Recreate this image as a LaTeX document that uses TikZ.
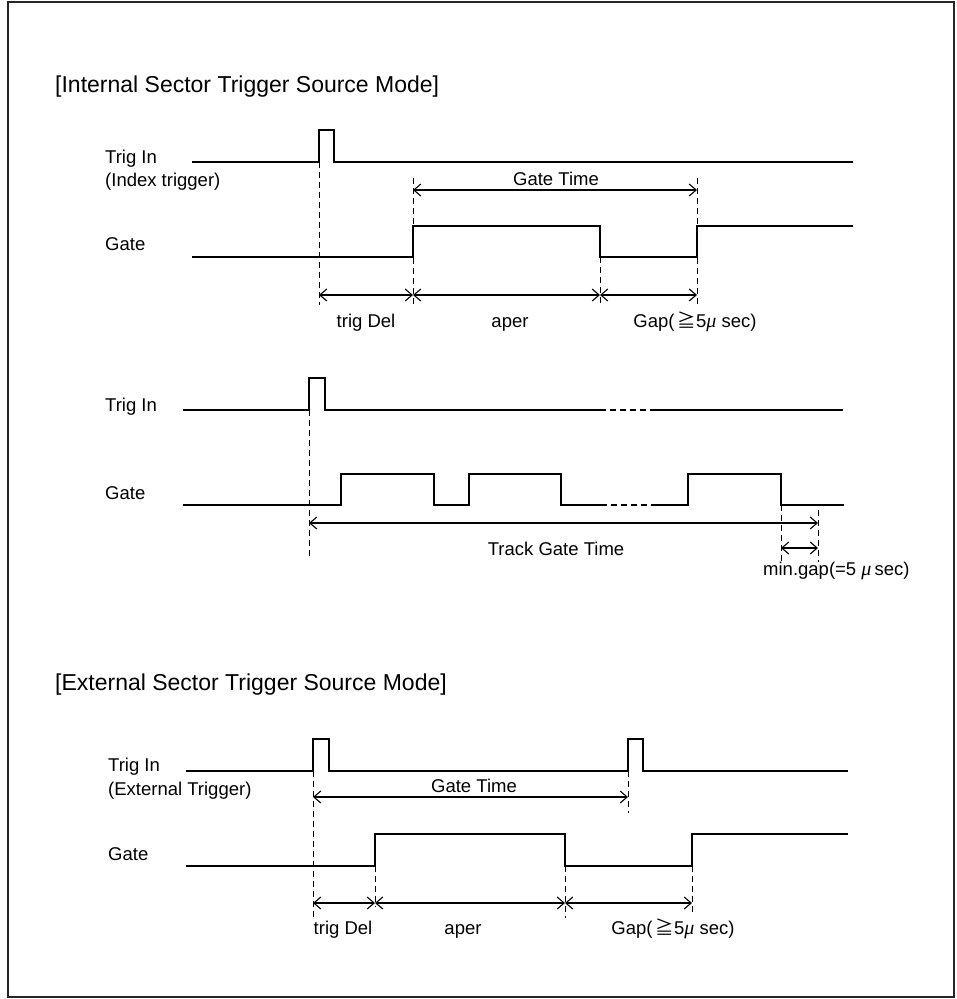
\documentclass[tikz,border=0pt]{standalone}
\usepackage{fontspec}
\setmainfont{Liberation Sans}
\newfontfamily\cjk{Noto Sans CJK JP}
\newfontfamily\muf{Liberation Serif}
\usetikzlibrary{arrows.meta}
\tikzset{
  sig/.style={line width=1.3pt, line join=miter},
  guide/.style={line width=0.9pt, dash pattern=on 6pt off 4pt},
  dim/.style={line width=1.1pt, {Straight Barb[length=7pt,width=12pt]}-{Straight Barb[length=7pt,width=12pt]}},
  lbl/.style={font=\fontsize{18.5pt}{22pt}\selectfont, inner sep=0pt},
  ttl/.style={font=\fontsize{23pt}{27pt}\selectfont, inner sep=0pt}
}
\newcommand{\gesym}{{\cjk\,≧}}
\newcommand{\mus}{{\muf\itshape\fontsize{20pt}{22pt}\selectfont μ}}
\begin{document}
\begin{tikzpicture}[x=1pt,y=-1pt]
\useasboundingbox (0,0) rectangle (957,999);
\draw[line width=2pt, black!85] (8,2) rectangle (954,997);

% ===== Internal: titles and labels =====
\node[ttl, anchor=base west] (t1) at (55,92) {[Internal Sector Trigger Source Mode]};
\node[lbl, anchor=base west] (a1) at (105,163) {Trig In};
\node[lbl, anchor=base west] (a2) at (105,186) {(Index trigger)};
\node[lbl, anchor=base west] (a3) at (105,250) {Gate};

% trig waveform
\draw[sig] (192,162) -- (319,162) -- (319,130) -- (334,130) -- (334,162) -- (853,162);
% gate waveform
\draw[sig] (192,257) -- (413,257) -- (413,226) -- (600,226) -- (600,257) -- (697,257) -- (697,226) -- (853,226);

% guide lines
\coordinate (p1) at (319,162);  \coordinate (p1b) at (319,305);
\coordinate (p2) at (413,178);  \coordinate (p2b) at (413,305);
\coordinate (p3) at (600,257);  \coordinate (p3b) at (600,305);
\coordinate (p4) at (697,178);  \coordinate (p4b) at (697,305);
\draw[guide] (p1) -- (p1b);
\draw[guide] (p2) -- (p2b);
\draw[guide] (p3) -- (p3b);
\draw[guide] (p4) -- (p4b);

% Gate time
\coordinate (g1) at (413,190); \coordinate (g2) at (697,190);
\draw[dim] (g1) -- (g2);
\node[lbl, anchor=base] (gt1) at (556,185) {Gate Time};

% dims
\coordinate (d1) at (319,295); \coordinate (d2) at (413,295);
\coordinate (d3) at (600,295); \coordinate (d4) at (697,295);
\draw[dim] (d1) -- (d2);
\draw[dim] (d2) -- (d3);
\draw[dim] (d3) -- (d4);
\node[lbl, anchor=base] (l1) at (366,327) {trig Del};
\node[lbl, anchor=base] (l2) at (510,327) {aper};
\node[lbl, anchor=base] (l3) at (695,327) {Gap(\gesym5\mus\ sec)};

% ===== Internal: track mode =====
\node[lbl, anchor=base west] (b1) at (105,411) {Trig In};
\node[lbl, anchor=base west] (b2) at (105,499) {Gate};

\draw[sig] (183,410) -- (309,410) -- (309,378) -- (325,378) -- (325,410) -- (600,410);
\draw[sig, dash pattern=on 6pt off 4pt] (600,410) -- (652,410);
\draw[sig] (652,410) -- (843,410);

\draw[sig] (183,505) -- (341,505) -- (341,474) -- (434,474) -- (434,505) -- (469,505) -- (469,474) -- (561,474) -- (561,505) -- (601,505);
\draw[sig, dash pattern=on 6pt off 4pt] (601,505) -- (652,505);
\draw[sig] (652,505) -- (688,505) -- (688,474) -- (781,474) -- (781,505) -- (844,505);

\coordinate (q1) at (309,410); \coordinate (q1b) at (309,557);
\coordinate (q2) at (781,505); \coordinate (q2b) at (781,565);
\coordinate (q3) at (818,510); \coordinate (q3b) at (818,562);
\draw[guide] (q1) -- (q1b);
\draw[guide] (q2) -- (q2b);
\draw[guide] (q3) -- (q3b);

\coordinate (tg1) at (309,523); \coordinate (tg2) at (818,523);
\draw[dim] (tg1) -- (tg2);
\node[lbl, anchor=base] (tgt) at (556,555) {Track Gate Time};

\coordinate (mg1) at (781,548); \coordinate (mg2) at (818,548);
\draw[dim] (mg1) -- (mg2);
\node[lbl, anchor=base west] (mgt) at (763,575) {min.gap(=5 \mus\,sec)};

% ===== External =====
\node[ttl, anchor=base west] (t2) at (55,690) {[External Sector Trigger Source Mode]};
\node[lbl, anchor=base west] (c1) at (108,771) {Trig In};
\node[lbl, anchor=base west] (c2) at (108,795) {(External Trigger)};
\node[lbl, anchor=base west] (c3) at (108,860) {Gate};

\draw[sig] (186,771) -- (313,771) -- (313,739) -- (329,739) -- (329,771) -- (628,771) -- (628,739) -- (643,739) -- (643,771) -- (848,771);
\draw[sig] (186,866) -- (375,866) -- (375,834) -- (565,834) -- (565,866) -- (692,866) -- (692,834) -- (848,834);

\coordinate (r1) at (313,771); \coordinate (r1b) at (313,917);
\coordinate (r2) at (628,771); \coordinate (r2b) at (628,813);
\coordinate (r3) at (375,866); \coordinate (r3b) at (375,907);
\coordinate (r4) at (565,866); \coordinate (r4b) at (565,918);
\coordinate (r5) at (692,866); \coordinate (r5b) at (692,912);
\draw[guide] (r1) -- (r1b);
\draw[guide] (r2) -- (r2b);
\draw[guide] (r3) -- (r3b);
\draw[guide] (r4) -- (r4b);
\draw[guide] (r5) -- (r5b);

\coordinate (eg1) at (313,797); \coordinate (eg2) at (628,797);
\draw[dim] (eg1) -- (eg2);
\node[lbl, anchor=base] (egt) at (474,792) {Gate Time};

\coordinate (e1) at (313,903); \coordinate (e2) at (375,903);
\coordinate (e3) at (565,903); \coordinate (e4) at (692,903);
\draw[dim] (e1) -- (e2);
\draw[dim] (e2) -- (e3);
\draw[dim] (e3) -- (e4);
\node[lbl, anchor=base] (m1) at (343,934) {trig Del};
\node[lbl, anchor=base] (m2) at (463,934) {aper};
\node[lbl, anchor=base] (m3) at (673,934) {Gap(\gesym5\mus\ sec)};
\end{tikzpicture}
\end{document}
